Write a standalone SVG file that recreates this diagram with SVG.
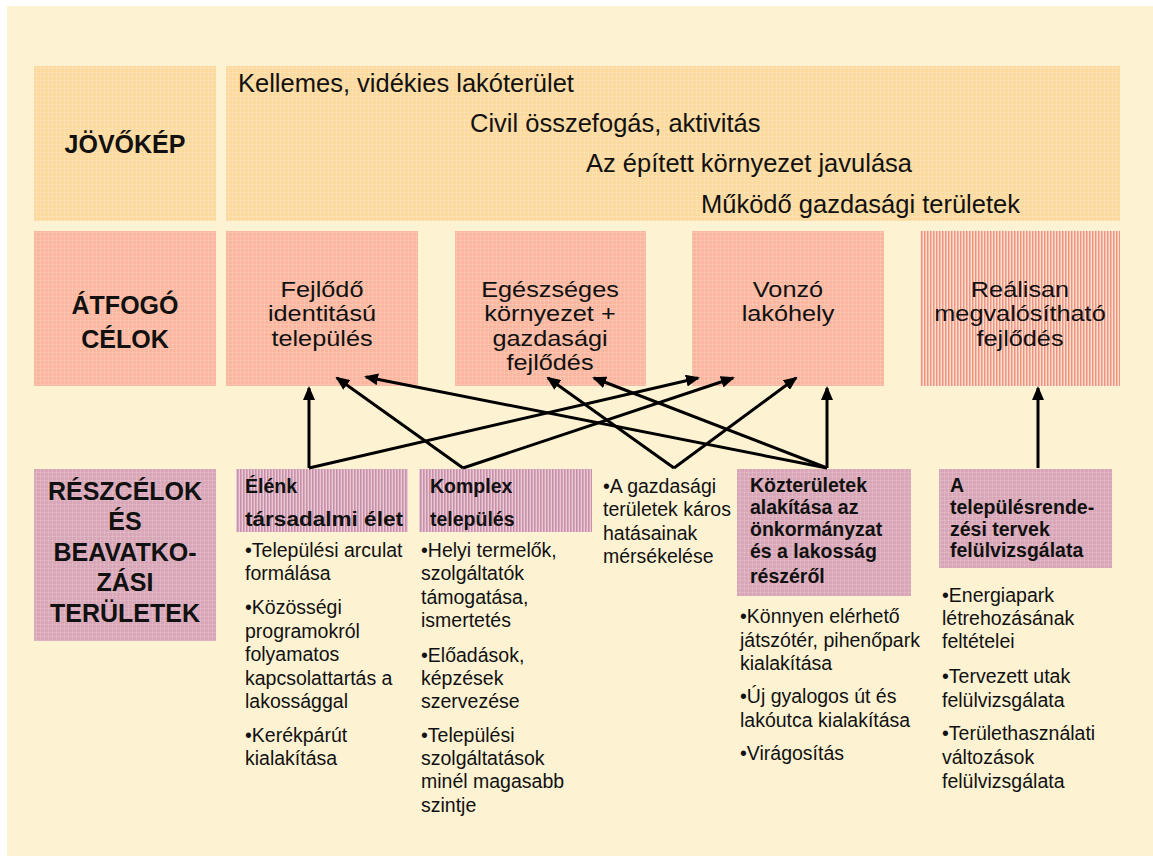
<svg xmlns="http://www.w3.org/2000/svg" width="1153" height="856" viewBox="0 0 1153 856">
<defs>
<style>
.lbl{font-family:"Liberation Sans",Arial,sans-serif;font-weight:bold;font-size:25px;fill:#111;text-anchor:middle}
.vis{font-family:"Liberation Sans",Arial,sans-serif;font-size:25.5px;fill:#111}
.goal{font-family:"Liberation Sans",Arial,sans-serif;font-size:21.8px;fill:#111;text-anchor:middle}
.hd{font-family:"Liberation Sans",Arial,sans-serif;font-weight:bold;font-size:19.5px;fill:#111}
.tx{font-family:"Liberation Sans",Arial,sans-serif;font-size:19.5px;fill:#111}
.conn{stroke:#000;stroke-width:3;fill:none;marker-end:url(#ah)}
</style>
<pattern id="gO" width="4" height="4" patternUnits="userSpaceOnUse"><rect width="4" height="4" fill="#FCD99D"/><path d="M0 0.5H4M0.5 0V4" stroke="#fff" stroke-opacity="0.15"/></pattern>
<pattern id="gS" width="4" height="4" patternUnits="userSpaceOnUse"><rect width="4" height="4" fill="#FAB69E"/><path d="M0 0.5H4M0.5 0V4" stroke="#fff" stroke-opacity="0.15"/></pattern>
<pattern id="gM" width="4" height="4" patternUnits="userSpaceOnUse"><rect width="4" height="4" fill="#D8A6B6"/><path d="M0 0.5H4M0.5 0V4" stroke="#fff" stroke-opacity="0.15"/></pattern>
<pattern id="sS" width="3" height="4" patternUnits="userSpaceOnUse"><rect width="3" height="4" fill="#FCE0CF"/><rect width="1.5" height="4" fill="#EE9382"/></pattern>
<pattern id="sM" width="3" height="4" patternUnits="userSpaceOnUse"><rect width="3" height="4" fill="#EACAD5"/><rect width="1.6" height="4" fill="#C990A9"/></pattern>
<marker id="ah" markerUnits="userSpaceOnUse" markerWidth="14" markerHeight="12" refX="12" refY="6" orient="auto"><path d="M0,0 L14,6 L0,12 z" fill="#000"/></marker>
</defs>
<rect width="1153" height="856" fill="#fff"/>
<rect x="7" y="6" width="1146" height="850" fill="#FDF2D2"/>

<g id="jovokep-label"><rect x="34" y="66" width="182" height="155" fill="url(#gO)"/><text class="lbl" x="125" y="153">JÖVŐKÉP</text></g>
<g id="jovokep"><rect x="226" y="66" width="894" height="155" fill="url(#gO)"/>
<text class="vis" x="238" y="92">Kellemes, vidékies lakóterület</text>
<text class="vis" x="470" y="132">Civil összefogás, aktivitás</text>
<text class="vis" x="586" y="172">Az épített környezet javulása</text>
<text class="vis" x="701" y="213">Működő gazdasági területek</text></g>

<g id="atfogo-label"><rect x="34" y="231" width="182" height="155" fill="url(#gS)"/><text class="lbl" x="125" y="314">ÁTFOGÓ</text><text class="lbl" x="125" y="348">CÉLOK</text></g>
<g id="cel-fejlodo"><rect x="226" y="231" width="192" height="155" fill="url(#gS)"/><g transform="translate(322 0) scale(1.16 1)"><text class="goal" x="0" y="297">Fejlődő</text><text class="goal" x="0" y="321.5">identitású</text><text class="goal" x="0" y="346">település</text></g></g>
<g id="cel-egeszseges"><rect x="455" y="231" width="191" height="155" fill="url(#gS)"/><g transform="translate(550 0) scale(1.16 1)"><text class="goal" x="0" y="297">Egészséges</text><text class="goal" x="0" y="321.5">környezet +</text><text class="goal" x="0" y="346">gazdasági</text><text class="goal" x="0" y="370.5">fejlődés</text></g></g>
<g id="cel-vonzo"><rect x="692" y="231" width="192" height="155" fill="url(#gS)"/><g transform="translate(788 0) scale(1.16 1)"><text class="goal" x="0" y="297">Vonzó</text><text class="goal" x="0" y="321.5">lakóhely</text></g></g>
<g id="cel-realis"><rect x="920" y="231" width="200" height="155" fill="url(#sS)"/><g transform="translate(1020 0) scale(1.16 1)"><text class="goal" x="0" y="297">Reálisan</text><text class="goal" x="0" y="321.5">megvalósítható</text><text class="goal" x="0" y="346">fejlődés</text></g></g>

<g id="reszcelok-label"><rect x="34" y="469" width="182" height="172" fill="url(#gM)"/>
<text class="lbl" x="125" y="500">RÉSZCÉLOK</text><text class="lbl" x="125" y="530">ÉS</text><text class="lbl" x="125" y="561">BEAVATKO-</text><text class="lbl" x="125" y="591">ZÁSI</text><text class="lbl" x="125" y="622">TERÜLETEK</text></g>

<g id="elenk"><rect x="236" y="469" width="172" height="63" fill="url(#sM)"/>
<text class="hd" x="245" y="493">Élénk</text><text class="hd" x="245" y="526" textLength="158" lengthAdjust="spacingAndGlyphs">társadalmi élet</text>
<text class="tx" x="245" y="557">•Települési arculat</text><text class="tx" x="245" y="580">formálása</text>
<text class="tx" x="245" y="614">•Közösségi</text><text class="tx" x="245" y="638">programokról</text><text class="tx" x="245" y="661">folyamatos</text><text class="tx" x="245" y="685">kapcsolattartás a</text><text class="tx" x="245" y="708">lakossággal</text>
<text class="tx" x="245" y="742">•Kerékpárút</text><text class="tx" x="245" y="765">kialakítása</text></g>

<g id="komplex"><rect x="419" y="469" width="173" height="63" fill="url(#sM)"/>
<text class="hd" x="430" y="493">Komplex</text><text class="hd" x="430" y="526">település</text>
<text class="tx" x="421" y="557">•Helyi termelők,</text><text class="tx" x="421" y="580">szolgáltatók</text><text class="tx" x="421" y="603.5">támogatása,</text><text class="tx" x="421" y="627">ismertetés</text>
<text class="tx" x="421" y="661.5">•Előadások,</text><text class="tx" x="421" y="685">képzések</text><text class="tx" x="421" y="708">szervezése</text>
<text class="tx" x="421" y="742">•Települési</text><text class="tx" x="421" y="765">szolgáltatások</text><text class="tx" x="421" y="788">minél magasabb</text><text class="tx" x="421" y="812">szintje</text></g>

<g id="gazdasagi"><text class="tx" x="603" y="493">•A gazdasági</text><text class="tx" x="603" y="516">területek káros</text><text class="tx" x="603" y="540">hatásainak</text><text class="tx" x="603" y="563">mérsékelése</text></g>

<g id="kozteruletek"><rect x="737" y="469" width="174" height="127" fill="url(#gM)"/>
<text class="hd" x="750" y="492">Közterületek</text><text class="hd" x="750" y="514">alakítása az</text><text class="hd" x="750" y="536">önkormányzat</text><text class="hd" x="750" y="558">és a lakosság</text><text class="hd" x="750" y="583">részéről</text>
<text class="tx" x="740" y="623">•Könnyen elérhető</text><text class="tx" x="740" y="647">játszótér, pihenőpark</text><text class="tx" x="740" y="670">kialakítása</text>
<text class="tx" x="740" y="703">•Új gyalogos út és</text><text class="tx" x="740" y="727">lakóutca kialakítása</text>
<text class="tx" x="740" y="760">•Virágosítás</text></g>

<g id="rendezesi"><rect x="939" y="469" width="173" height="99" fill="url(#gM)"/>
<text class="hd" x="950" y="492">A</text><text class="hd" x="950" y="514">településrende-</text><text class="hd" x="950" y="536">zési tervek</text><text class="hd" x="950" y="557">felülvizsgálata</text>
<text class="tx" x="942" y="602">•Energiapark</text><text class="tx" x="942" y="625">létrehozásának</text><text class="tx" x="942" y="648">feltételei</text>
<text class="tx" x="942" y="683">•Tervezett utak</text><text class="tx" x="942" y="707">felülvizsgálata</text>
<text class="tx" x="942" y="740">•Területhasználati</text><text class="tx" x="942" y="764">változások</text><text class="tx" x="942" y="788">felülvizsgálata</text></g>

<g id="connectors">
<line class="conn" x1="309" y1="468" x2="309" y2="388"/>
<line class="conn" x1="309" y1="468" x2="698" y2="378"/>
<line class="conn" x1="463" y1="468" x2="337" y2="378"/>
<line class="conn" x1="463" y1="468" x2="733" y2="378"/>
<line class="conn" x1="674" y1="468" x2="548" y2="378"/>
<line class="conn" x1="674" y1="468" x2="796" y2="378"/>
<line class="conn" x1="827" y1="468" x2="366" y2="377"/>
<line class="conn" x1="827" y1="468" x2="594" y2="378"/>
<line class="conn" x1="827" y1="468" x2="827" y2="388"/>
<line class="conn" x1="1038" y1="468" x2="1038" y2="388"/>
</g>
</svg>
